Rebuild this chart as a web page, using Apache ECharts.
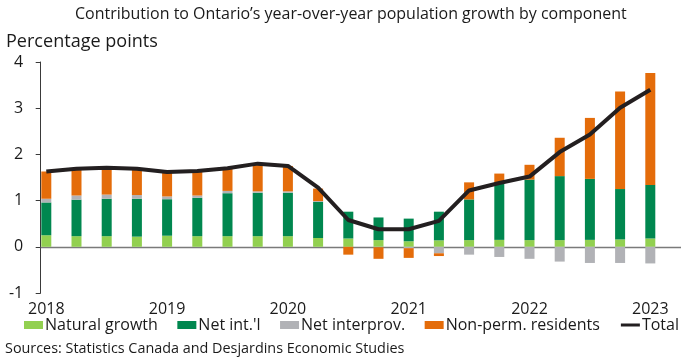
<!DOCTYPE html>
<html>
<head>
<meta charset="utf-8">
<script src="https://cdn.jsdelivr.net/npm/echarts@6/dist/echarts.min.js"></script>
<style>
html,body{margin:0;padding:0;background:#fff;}
#chart{width:681px;height:361px;}
</style>
</head>
<body>
<div id="chart"></div>
<script>
const categories = ['2018Q1','2018Q2','2018Q3','2018Q4','2019Q1','2019Q2','2019Q3','2019Q4','2020Q1','2020Q2','2020Q3','2020Q4','2021Q1','2021Q2','2021Q3','2021Q4','2022Q1','2022Q2','2022Q3','2022Q4','2023Q1'];
const yearTicks = ['2018','2019','2020','2021','2022','2023'];
const naturalGrowth = [0.25,0.23,0.23,0.22,0.24,0.23,0.23,0.23,0.23,0.19,0.18,0.145,0.12,0.14,0.145,0.15,0.145,0.145,0.15,0.16,0.18];
const netInternational = [0.71,0.79,0.81,0.82,0.79,0.83,0.93,0.94,0.94,0.78,0.58,0.49,0.49,0.62,0.88,1.22,1.31,1.385,1.32,1.09,1.16];
const netInterprovincial = [0.08,0.09,0.09,0.08,0.06,0.05,0.05,0.03,0.03,0.02,0,-0.01,-0.03,-0.14,-0.17,-0.22,-0.26,-0.32,-0.35,-0.35,-0.36];
const nonPermResidents = [0.59,0.57,0.58,0.55,0.53,0.52,0.49,0.58,0.55,0.27,-0.17,-0.25,-0.21,-0.06,0.37,0.215,0.32,0.83,1.32,2.11,2.42];
const total = [1.63,1.69,1.71,1.69,1.62,1.64,1.70,1.80,1.75,1.28,0.58,0.38,0.38,0.56,1.22,1.38,1.52,2.05,2.43,3.01,3.40];
const yMin = -1, yMax = 4, yStep = 1;

const FONT = '"Open Sans", "Noto Sans", sans-serif';
function fit(text, width) {
  const c = document.createElement('canvas').getContext('2d');
  c.font = '400 100px ' + FONT;
  return 100 * width / c.measureText(text).width;
}
const titleText = 'Contribution to Ontario\u2019s year-over-year population growth by component';
const unitText = 'Percentage points';
const sourceText = 'Sources: Statistics Canada and Desjardins Economic Studies';

const TXT = '#1a1a1a';
const chart = echarts.init(document.getElementById('chart'), null, {renderer: 'canvas'});
const barCommon = {type: 'bar', stack: 'c', barWidth: 10, xAxisIndex: 0, yAxisIndex: 0};
chart.setOption({
  animation: false,
  backgroundColor: '#fff',
  textStyle: {fontFamily: FONT},
  title: [
    {text: titleText, left: 75, top: 6, padding: 0, textStyle: {fontSize: fit(titleText, 552), fontWeight: 'normal', color: TXT, fontFamily: FONT}},
    {text: unitText, left: 6, top: 33, padding: 0, textStyle: {fontSize: fit(unitText, 152), fontWeight: 'normal', color: TXT, fontFamily: FONT}},
    {text: sourceText, left: 5, top: 342, padding: 0, textStyle: {fontSize: fit(sourceText, 400), fontWeight: 'normal', color: TXT, fontFamily: FONT}}
  ],
  legend: {
    left: 24, top: 317, width: 700, padding: 0, itemGap: 19.5, itemWidth: 19, itemHeight: 8,
    textStyle: {fontSize: 16, color: TXT, fontFamily: FONT, padding: [0, 0, 0, -3]},
    data: [
      {name: 'Natural growth', icon: 'rect'},
      {name: 'Net int.\'l', icon: 'rect'},
      {name: 'Net interprov.', icon: 'rect'},
      {name: 'Non-perm. residents', icon: 'rect'},
      {name: 'Total', itemStyle: {opacity: 0}, lineStyle: {width: 3, color: '#231f20'}}
    ]
  },
  grid: [
    {left: 31.2, width: 634.2, top: 62, height: 231, containLabel: false},
    {left: 40.7, right: 0, top: 62, height: 231, containLabel: false}
  ],
  xAxis: [
    {type: 'category', gridIndex: 0, data: categories, boundaryGap: true, position: 'bottom',
     axisLine: {show: false, onZero: false}, axisTick: {show: false}, splitLine: {show: false},
     axisLabel: {interval: 3, formatter: v => v.slice(0, 4), margin: 8, fontSize: 16, color: TXT, fontFamily: FONT}},
    {type: 'value', gridIndex: 1, min: 0, max: 1,
     axisLine: {show: true, onZero: true, lineStyle: {color: '#7a7a7a', width: 1.3}},
     axisTick: {show: false}, axisLabel: {show: false}, splitLine: {show: false}}
  ],
  yAxis: [
    {type: 'value', gridIndex: 0, min: yMin, max: yMax, interval: yStep, offset: -9.5,
     axisLine: {show: true, lineStyle: {color: '#3a3a3a', width: 1}},
     axisTick: {show: true, length: 5, lineStyle: {color: '#3a3a3a'}},
     splitLine: {show: false},
     axisLabel: {margin: 17.5, fontSize: 16, color: TXT, fontFamily: FONT}},
    {type: 'value', gridIndex: 1, min: yMin, max: yMax, interval: yStep, show: false}
  ],
  series: [
    Object.assign({name: 'Natural growth', data: naturalGrowth, itemStyle: {color: '#92d050'}}, barCommon),
    Object.assign({name: 'Net int.\'l', data: netInternational, itemStyle: {color: '#00874f'}}, barCommon),
    Object.assign({name: 'Net interprov.', data: netInterprovincial, itemStyle: {color: '#b1b2b6'}}, barCommon),
    Object.assign({name: 'Non-perm. residents', data: nonPermResidents, itemStyle: {color: '#e46c0a'}}, barCommon),
    {name: 'Total', type: 'line', xAxisIndex: 0, yAxisIndex: 0, data: total, symbol: 'none', z: 10,
     lineStyle: {color: '#231f20', width: 4}, itemStyle: {color: '#231f20'}}
  ]
});
</script>
</body>
</html>
